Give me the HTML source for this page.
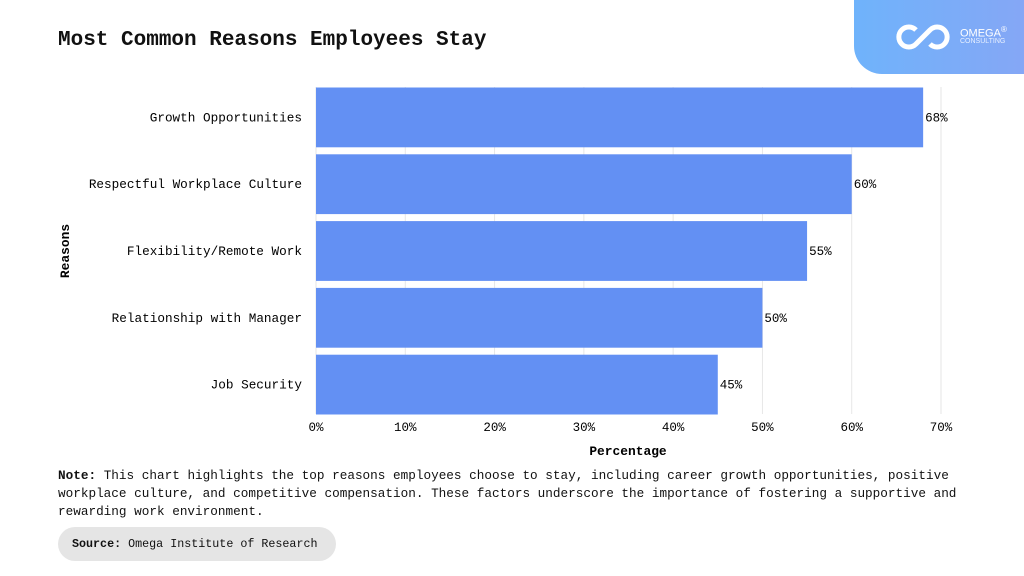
<!DOCTYPE html>
<html><head><meta charset="utf-8"><style>
body{margin:0;width:1024px;height:576px;background:#fff;overflow:hidden;position:relative;font-family:"Liberation Mono",monospace;color:#111}
.t{position:absolute;white-space:nowrap}
</style></head><body>
<div class="t" style="left:58px;top:29px;font-size:21px;font-weight:bold">Most Common Reasons Employees Stay</div>
<div style="position:absolute;left:854px;top:-10px;width:180px;height:84px;border-bottom-left-radius:28px;background:linear-gradient(90deg,#6fb3fb,#86a6f5)">
<svg width="180" height="84" style="position:absolute;left:0;top:0"><path d="M62 38 a10 10 0 1 0 0 14 l14 -14 a10 10 0 1 1 0 14" fill="none" stroke="#fff" stroke-width="5" transform="translate(0,2)"/></svg>
<div class="t" style="left:106px;top:35px;color:#fff;font-family:'Liberation Sans',sans-serif;font-size:11px">OMEGA<sup style="font-size:8px">®</sup></div>
<div class="t" style="left:106px;top:48px;color:#e8f0ff;font-family:'Liberation Sans',sans-serif;font-size:7px">CONSULTING</div>
</div>
<svg id="chart" width="1024" height="576" style="position:absolute;left:0;top:0"></svg>
<div class="t" style="left:58px;top:467px;font-size:12.7px;line-height:18px;white-space:normal;width:920px"><b>Note:</b> This chart highlights the top reasons employees choose to stay, including career growth opportunities, positive workplace culture, and competitive compensation. These factors underscore the importance of fostering a supportive and rewarding work environment.</div>
<div style="position:absolute;left:58px;top:527px;width:278px;height:34px;border-radius:17px;background:#e5e5e5"></div>
<div class="t" style="left:72px;top:537px;font-size:11.7px"><b>Source:</b> Omega Institute of Research</div>
<script>
const categories=["Growth Opportunities","Respectful Workplace Culture","Flexibility/Remote Work","Relationship with Manager","Job Security"];
const values=[68,60,55,50,45];
const ticks=[0,10,20,30,40,50,60,70];
const svg=document.getElementById('chart');const NS='http://www.w3.org/2000/svg';
const x0=316,x1=941,y0=87,band=66.8;
const xs=v=>x0+(v/70)*(x1-x0);
function mk(t,a){const e=document.createElementNS(NS,t);for(const k in a)e.setAttribute(k,a[k]);svg.appendChild(e);return e;}
ticks.forEach(t=>{const l=mk('line',{x1:xs(t),x2:xs(t),y1:y0,y2:414,stroke:'#e6e6e6'});


const tx=mk('text',{x:xs(t),y:431,'text-anchor':'middle','font-size':'12.5','font-family':'Liberation Mono'});tx.textContent=t+'%';

});
categories.forEach((c,i)=>{const y=y0+i*band;
const r=mk('rect',{x:x0,y:y+0.5,width:xs(values[i])-x0,height:band-7,fill:'#6390f3'});


const cy=y+band/2-3;
const lb=mk('text',{x:302,y:cy+4,'text-anchor':'end','font-size':'12.7','font-family':'Liberation Mono'});lb.textContent=c;


const vl=mk('text',{x:xs(values[i])+2,y:cy+4,'font-size':'12.5','font-family':'Liberation Mono'});vl.textContent=values[i]+'%';

});
const xt=mk('text',{x:628,y:455,'text-anchor':'middle','font-size':'12.9','font-weight':'bold','font-family':'Liberation Mono'});xt.textContent='Percentage';


const yt=mk('text',{x:0,y:0,'text-anchor':'middle','font-size':'12.9','font-weight':'bold','font-family':'Liberation Mono',transform:'translate(69,251) rotate(-90)'});yt.textContent='Reasons';


</script>
</body></html>
